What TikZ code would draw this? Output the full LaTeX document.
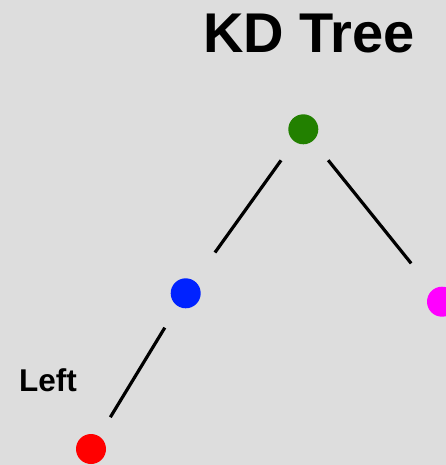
\documentclass[tikz,border=0pt]{standalone}
\usepackage{fontspec}
\setmainfont{Liberation Sans}
\definecolor{bg}{RGB}{221,221,221}
\definecolor{dgreen}{RGB}{34,128,0}
\definecolor{dblue}{RGB}{0,34,255}
\definecolor{dmagenta}{RGB}{255,0,255}
\definecolor{dred}{RGB}{255,0,0}
\begin{document}
\begin{tikzpicture}[x=1pt,y=-1pt,
  dot/.style={circle,minimum size=30pt,inner sep=0pt,fill=#1},
  edge/.style={line width=3.2pt,black}]
\fill[bg] (0,0) rectangle (446,465);
\useasboundingbox (0,0) rectangle (446,465);
\clip (0,0) rectangle (446,465);
\node[anchor=base,font=\bfseries\fontsize{56}{60}\selectfont,inner sep=0pt] (title) at (309,53) {KD Tree};
\node[anchor=base west,font=\bfseries\fontsize{31.5}{34}\selectfont,inner sep=0pt] (left) at (19,391) {Left};
\node[dot=dgreen] (g) at (303.3,129.3) {};
\node[dot=dblue] (b) at (185.7,293.3) {};
\node[dot=dmagenta] (m) at (442,301.7) {};
\node[dot=dred] (r) at (91,449) {};
\draw[edge,shorten <=23pt,shorten >=35pt] (g) -- (b);
\draw[edge,shorten <=24.5pt,shorten >=34pt] (g) -- (m);
\draw[edge,shorten <=25pt,shorten >=22pt] (b) -- (r);
\end{tikzpicture}
\end{document}
